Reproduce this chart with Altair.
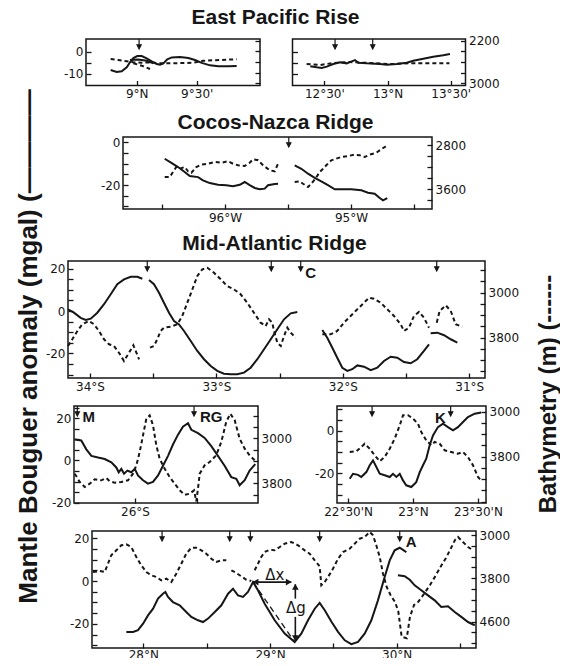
import json
import altair as alt
import pandas as pd

# ===================== DATA =====================
# ---- East Pacific Rise, 9°N (latitude °N; gravity mgal; depth m)
EPR9_GRAV_LAT = [8.783, 8.833, 8.875, 8.917, 8.944, 8.972, 9.005, 9.042, 9.083, 9.125, 9.167, 9.194,
                 9.222, 9.255, 9.292, 9.361, 9.430, 9.486, 9.542, 9.611, 9.680, 9.763, 9.833]
EPR9_GRAV = [-8.3, -9.2, -8.9, -7.1, -4.8, -2.9, -2.0, -2.0, -3.0, -4.4, -5.6, -5.9,
             -5.3, -3.5, -2.6, -2.4, -2.9, -3.8, -5.1, -6.2, -6.6, -6.6, -6.5]
EPR9_GRAV2_LAT = [8.944, 9.014, 9.083, 9.139]
EPR9_GRAV2 = [-3.8, -3.5, -4.1, -5.3]
EPR9_DEPTH_LAT = [8.783, 8.847, 8.917, 8.972, 9.042, 9.125, 9.194, 9.305, 9.472, 9.555, 9.694, 9.833]
EPR9_DEPTH = [2544, 2562, 2587, 2606, 2613, 2606, 2624, 2624, 2613, 2576, 2562, 2549]
EPR9_DEPTH2_LAT = [8.972, 9.042, 9.111]
EPR9_DEPTH2 = [2624, 2669, 2731]
EPR9_ARROWS = [9.02]

# ---- East Pacific Rise, 13°N
EPR13_GRAV_LAT = [12.389, 12.440, 12.479, 12.519, 12.571, 12.624, 12.677, 12.717, 12.743, 12.769,
                  12.835, 12.941, 12.994, 13.073, 13.152, 13.204, 13.283, 13.362, 13.441, 13.494]
EPR13_GRAV = [-6.6, -7.1, -7.4, -6.8, -5.6, -4.8, -5.3, -4.4, -3.8, -5.0,
              -5.3, -5.6, -5.9, -5.6, -5.0, -4.1, -3.2, -2.3, -1.6, -1.0]
EPR13_DEPTH_LAT = [12.36, 12.466, 12.57, 12.70, 12.86, 13.02, 13.18, 13.33, 13.49]
EPR13_DEPTH = [2638, 2656, 2619, 2600, 2619, 2638, 2624, 2624, 2624]
EPR13_ARROWS = [12.585, 12.883]

EPR_GTICKS = [-10, -5, 0]
EPR9_GLABELS = ["-10", "", "0"]
EPR13_GLABELS = ["", "", ""]
EPR_BTICKS = [2200, 2400, 2600, 2800, 3000]
EPR9_BLABELS = ["", "", "", "", ""]
EPR13_BLABELS = ["2200", "", "", "", "3000"]
EPR9_XTICKS = [9.0, 9.5]
EPR9_XLABELS = ["9°N", "9°30'"]
EPR13_XTICKS = [12.5, 13.0, 13.5]
EPR13_XLABELS = ["12°30'", "13°N", "13°30'"]

# ---- Cocos-Nazca Ridge (longitude, east positive)
COCOS_W_GRAV_LON = [-96.479, -96.426, -96.373, -96.320, -96.280, -96.214, -96.175, -96.121, -96.056, -95.990,
                    -95.937, -95.883, -95.844, -95.804, -95.764, -95.725, -95.685, -95.659, -95.606, -95.579]
COCOS_W_GRAV = [-7.7, -9.6, -11.6, -13.9, -15.8, -16.3, -17.8, -19.1, -19.9, -20.1,
                -20.6, -19.9, -18.6, -20.1, -21.4, -22.0, -21.7, -20.1, -19.5, -19.4]
COCOS_W_DEPTH_LON = [-96.479, -96.439, -96.413, -96.387, -96.360, -96.320, -96.294, -96.267, -96.228, -96.188,
                     -96.135, -96.082, -96.029, -95.976, -95.937, -95.897, -95.844, -95.804, -95.778, -95.738,
                     -95.698, -95.645, -95.606, -95.579]
COCOS_W_DEPTH = [3382, 3382, 3291, 3200, 3231, 3200, 3278, 3304, 3200, 3158,
                 3140, 3109, 3122, 3096, 3140, 3169, 3182, 3122, 3060, 3078,
                 3169, 3260, 3278, 3140]
COCOS_E_GRAV_LON = [-95.447, -95.394, -95.341, -95.288, -95.236, -95.183, -95.129, -95.077, -94.998, -94.918,
                    -94.865, -94.812, -94.772, -94.746, -94.712]
COCOS_E_GRAV = [-10.8, -12.4, -14.7, -16.7, -18.3, -20.1, -22.0, -22.0, -22.0, -22.5,
                -23.6, -24.1, -26.1, -27.2, -26.1]
COCOS_E_DEPTH_LON = [-95.447, -95.407, -95.381, -95.341, -95.315, -95.283, -95.248, -95.222, -95.196, -95.156,
                     -95.117, -95.077, -95.024, -94.971, -94.931, -94.891, -94.852, -94.799, -94.760, -94.720]
COCOS_E_DEPTH = [3473, 3460, 3504, 3564, 3504, 3413, 3291, 3231, 3169, 3078,
                 3049, 3018, 3000, 2976, 2987, 3018, 2976, 2940, 2878, 2818]
COCOS_ARROWS = [-95.494]
COCOS_GTICKS = [-30, -25, -20, -15, -10, -5, 0]
COCOS_GLABELS = ["", "", "-20", "", "", "", "0"]
COCOS_BTICKS = [2800, 3000, 3200, 3400, 3600, 3800]
COCOS_BLABELS = ["2800", "", "", "", "3600", ""]
COCOS_XTICKS = [-96.5, -96.0, -95.5, -95.0, -94.5]
COCOS_XLABELS = ["", "96°W", "", "95°W", ""]

# ---- Mid-Atlantic Ridge, 34°S-31°S (latitude, north positive)
MARC_GRAV_1_LAT = [-34.174, -34.127, -34.074, -34.034, -33.994, -33.942, -33.889, -33.836, -33.784, -33.731,
                   -33.678, -33.626, -33.586]
MARC_GRAV_1 = [0.8, -0.8, -3.2, -4.2, -3.6, -0.8, 3.2, 7.9, 12.6, 14.9, 16.1, 16.1, 15.2]
MARC_GRAV_2_LAT = [-33.533, -33.494, -33.454, -33.415, -33.375, -33.335, -33.296, -33.256, -33.203, -33.151,
                   -33.098, -33.045, -32.993, -32.940, -32.887, -32.835, -32.782, -32.729, -32.676, -32.623,
                   -32.570, -32.518, -32.465, -32.412, -32.360]
MARC_GRAV_2 = [14.6, 12.6, 8.6, 3.9, -0.8, -4.7, -6.3, -9.4, -14.1, -18.8,
               -22.7, -25.9, -28.2, -29.5, -29.8, -29.8, -29.0, -26.7, -22.7, -18.0,
               -13.3, -8.6, -3.9, -1.1, -0.5]
MARC_GRAV_3_LAT = [-32.162, -32.123, -32.083, -32.044, -32.004, -31.964, -31.925, -31.885, -31.832, -31.779,
                   -31.727, -31.674, -31.621, -31.569, -31.516, -31.463, -31.411, -31.358, -31.318]
MARC_GRAV_3 = [-8.9, -12.6, -17.3, -22.0, -26.7, -28.2, -27.4, -25.6, -26.2, -27.8,
               -26.7, -23.5, -21.5, -22.0, -24.0, -24.6, -22.7, -18.8, -15.7]
MARC_GRAV_4_LAT = [-31.305, -31.252, -31.199, -31.146, -31.094]
MARC_GRAV_4 = [-10.5, -10.2, -11.4, -13.3, -14.9]
MARC_DEPTH_1_LAT = [-34.174, -34.140, -34.100, -34.061, -34.008, -33.968, -33.929, -33.889, -33.850, -33.810,
                    -33.771, -33.731, -33.691, -33.657, -33.638, -33.612]
MARC_DEPTH_1 = [3948, 3829, 3681, 3562, 3503, 3562, 3681, 3829, 3917, 3948,
                4067, 4214, 4067, 3935, 4037, 4184]
MARC_DEPTH_2_LAT = [-33.525, -33.494, -33.468, -33.441, -33.415, -33.362, -33.309, -33.270, -33.230, -33.190,
                    -33.151, -33.111, -33.072, -33.019, -32.966, -32.914, -32.861, -32.808, -32.756, -32.703,
                    -32.650, -32.610, -32.584, -32.558, -32.544, -32.518, -32.491, -32.465, -32.439, -32.412,
                    -32.373]
MARC_DEPTH_2 = [3978, 3948, 3829, 3681, 3622, 3605, 3562, 3414, 3178, 2940,
                2703, 2584, 2556, 2644, 2762, 2881, 2940, 3028, 3178, 3356,
                3533, 3592, 3473, 3533, 3681, 3889, 3948, 3770, 3622, 3711,
                3800]
MARC_DEPTH_3_LAT = [-32.162, -32.096, -32.044, -31.991, -31.938, -31.885, -31.832, -31.793, -31.753, -31.700,
                    -31.648, -31.595, -31.542, -31.516, -31.476, -31.437, -31.397, -31.358, -31.318]
MARC_DEPTH_3 = [3740, 3740, 3681, 3533, 3414, 3295, 3178, 3089, 3107, 3178,
                3295, 3414, 3562, 3681, 3622, 3414, 3343, 3444, 3622]
MARC_DEPTH_4_LAT = [-31.257, -31.234, -31.186, -31.146, -31.107, -31.055]
MARC_DEPTH_4 = [3533, 3325, 3224, 3325, 3562, 3605]
MARC_ARROWS = [-33.547, -32.566, -32.333, -31.257]
MARC_LABELS = ["C"]
MARC_LABEL_POS = [(-32.254, 18.0)]
MARC_GTICKS = [-30, -25, -20, -15, -10, -5, 0, 5, 10, 15, 20]
MARC_GLABELS = ["", "", "-20", "", "", "", "0", "", "", "", "20"]
MARC_BTICKS = [2600, 2800, 3000, 3200, 3400, 3600, 3800, 4000, 4200, 4400]
MARC_BLABELS = ["", "", "3000", "", "", "", "3800", "", "", ""]
MARC_XTICKS = [-34.0, -33.5, -33.0, -32.5, -32.0, -31.5, -31.0]
MARC_XLABELS = ["34°S", "", "33°S", "", "32°S", "", "31°S"]

# ---- Mid-Atlantic Ridge, 26°S-25°S (M, RG)
MARM_GRAV_LAT = [-26.489, -26.436, -26.395, -26.354, -26.300, -26.246, -26.192, -26.152, -26.132, -26.111,
                 -26.089, -26.062, -26.030, -26.002, -25.976, -25.935, -25.895, -25.854, -25.813, -25.773,
                 -25.732, -25.692, -25.651, -25.611, -25.570, -25.543, -25.489, -25.435, -25.381, -25.327,
                 -25.273, -25.219, -25.178, -25.151, -25.110, -25.070, -25.024]
MARM_GRAV = [10.0, 9.5, 5.3, 2.2, 1.4, 0.7, -0.9, -3.3, -5.6, -4.0,
             -6.3, -4.8, -5.6, -4.0, -7.1, -9.4, -11.0, -10.2, -7.1, -2.5,
             2.2, 7.6, 12.3, 16.1, 17.7, 14.6, 13.0, 10.7, 6.8, 2.2,
             -2.5, -7.9, -8.7, -11.8, -9.4, -4.8, -1.7]
MARM_DEPTH_LAT = [-26.489, -26.448, -26.408, -26.367, -26.327, -26.273, -26.233, -26.205, -26.165, -26.111,
                  -26.057, -26.016, -25.989, -25.962, -25.935, -25.908, -25.881, -25.854, -25.827, -25.800,
                  -25.759, -25.719, -25.678, -25.637, -25.597, -25.556, -25.521, -25.503, -25.489, -25.475,
                  -25.435, -25.394, -25.341, -25.300, -25.260, -25.227, -25.191, -25.151, -25.110, -25.070,
                  -25.029]
MARM_DEPTH = [3629, 3777, 3866, 3807, 3729, 3747, 3706, 3765, 3789, 3777,
              3747, 3629, 3480, 3244, 2947, 2652, 2591, 2769, 3124, 3363,
              3541, 3688, 3807, 3925, 4003, 3985, 3925, 4120, 3896, 3629,
              3480, 3421, 3302, 3066, 2710, 2563, 2680, 3007, 3185, 3302,
              3391]
MARM_ARROWS = [-26.468, -25.521]
MARM_LABELS = ["M", "RG"]
MARM_LABEL_POS = [(-26.375, 20.8), (-25.381, 20.8)]
MARM_GTICKS = [-20, -15, -10, -5, 0, 5, 10, 15, 20, 25]
MARM_GLABELS = ["-20", "", "", "", "0", "", "", "", "20", ""]
MARM_BTICKS = [2600, 2800, 3000, 3200, 3400, 3600, 3800, 4000]
MARM_BLABELS = ["", "", "3000", "", "", "", "3800", ""]
MARM_XTICKS = [-26.0, -25.5, -25.0]
MARM_XLABELS = ["26°S", "", "25°S"]

# ---- Mid-Atlantic Ridge, 23°N (K)
K_GRAV_LAT = [22.513, 22.538, 22.577, 22.602, 22.641, 22.667, 22.692, 22.718, 22.744, 22.782,
              22.821, 22.846, 22.872, 22.898, 22.923, 22.948, 22.987, 23.025, 23.052, 23.077,
              23.102, 23.128, 23.154, 23.192, 23.231, 23.269, 23.308, 23.346, 23.385, 23.423,
              23.475, 23.525]
K_GRAV = [-22.5, -20.2, -20.7, -21.7, -19.4, -16.2, -13.9, -17.0, -20.2, -20.9,
          -21.7, -20.2, -21.7, -20.2, -23.3, -25.6, -26.4, -24.1, -19.4, -16.2,
          -13.1, -6.9, -2.2, 1.7, 3.3, 1.7, 0.2, 1.7, 4.1, 6.4,
          8.0, 8.5]
K_DEPTH_LAT = [22.513, 22.564, 22.602, 22.628, 22.667, 22.705, 22.744, 22.782, 22.821, 22.859,
               22.898, 22.923, 22.962, 23.000, 23.038, 23.064, 23.102, 23.141, 23.167, 23.205,
               23.244, 23.295, 23.346, 23.385, 23.423, 23.462, 23.500, 23.525]
K_DEPTH = [3717, 3704, 3628, 3569, 3658, 3775, 3882, 3805, 3658, 3480,
           3242, 3064, 3064, 3124, 3213, 3361, 3509, 3597, 3539, 3569,
           3686, 3717, 3747, 3717, 3805, 3953, 4161, 4220]
K_ARROWS = [22.685, 23.29]
K_LABELS = ["K"]
K_LABEL_POS = [(23.212, 6.0)]
K_GTICKS = [-30, -25, -20, -15, -10, -5, 0, 5, 10]
K_GLABELS = ["", "", "-20", "", "", "", "0", "", ""]
K_BTICKS = [3000, 3200, 3400, 3600, 3800, 4000, 4200, 4400, 4600]
K_BLABELS = ["3000", "", "", "", "3800", "", "", "", ""]
K_XTICKS = [22.5, 23.0, 23.5]
K_XLABELS = ["22°30'N", "23°N", "23°30'N"]

# ---- Mid-Atlantic Ridge, 28°N-30°N (A)
A_GRAV_1_LAT = [27.866, 27.919, 27.958, 27.998, 28.037, 28.077, 28.116, 28.155, 28.174, 28.195,
                28.234, 28.287, 28.339, 28.379, 28.432, 28.471, 28.511, 28.564, 28.616, 28.669,
                28.708, 28.747, 28.787, 28.826, 28.866, 28.905, 28.958, 29.037, 29.116, 29.195,
                29.247, 29.300, 29.353, 29.392, 29.432, 29.484, 29.537, 29.590, 29.642, 29.695,
                29.747, 29.800, 29.852, 29.905, 29.945, 29.984, 30.024, 30.076]
A_GRAV_1 = [-23.7, -23.7, -22.9, -19.9, -16.0, -12.9, -8.2, -5.9, -5.1, -7.4,
            -9.8, -11.3, -14.4, -16.7, -18.3, -19.1, -17.5, -14.4, -11.3, -5.9,
            -3.6, -6.7, -7.4, -5.1, -0.5, -4.3, -10.6, -18.3, -24.5, -28.4,
            -24.5, -18.3, -12.9, -10.2, -13.6, -18.9, -23.7, -27.6, -29.4, -28.4,
            -24.5, -18.3, -9.0, 1.9, 9.6, 14.3, 15.5, 13.5]
A_GRAV_2_LAT = [30.010, 30.063, 30.103, 30.142, 30.194, 30.247, 30.300, 30.352, 30.405, 30.458,
                30.510, 30.563, 30.616]
A_GRAV_2 = [2.7, 2.2, 0.6, -2.0, -4.3, -6.7, -9.0, -12.1, -11.8, -14.4, -16.7, -19.1, -20.6]
A_DEPTH_1_LAT = [27.603, 27.656, 27.695, 27.721, 27.747, 27.787, 27.826, 27.866, 27.905, 27.945,
                 27.984, 28.024, 28.063, 28.103, 28.142, 28.182, 28.221, 28.260, 28.300, 28.339,
                 28.379, 28.418, 28.458, 28.497, 28.537, 28.576, 28.616, 28.655]
A_DEPTH_1 = [3684, 3665, 3684, 3530, 3375, 3283, 3190, 3172, 3222, 3406,
             3560, 3684, 3745, 3776, 3837, 3807, 3868, 3715, 3530, 3345,
             3235, 3235, 3283, 3345, 3438, 3499, 3467, 3467]
A_DEPTH_2_LAT = [28.695, 28.734, 28.773, 28.813, 28.852]
A_DEPTH_2 = [3652, 3702, 3763, 3826, 3850]
A_DEPTH_3_LAT = [28.879, 28.905, 28.931, 28.958, 28.998, 29.037, 29.077, 29.116, 29.168, 29.221,
                 29.274, 29.313, 29.353, 29.392, 29.405, 29.432, 29.458, 29.497, 29.537, 29.576,
                 29.629, 29.668, 29.708, 29.747, 29.787, 29.813, 29.839, 29.866, 29.892, 29.921,
                 29.955, 29.987, 30.013, 30.039, 30.079, 30.105, 30.137, 30.171, 30.215, 30.263,
                 30.310, 30.350, 30.389, 30.429, 30.460, 30.484, 30.523, 30.563, 30.602]
A_DEPTH_3 = [3652, 3530, 3406, 3314, 3271, 3283, 3222, 3161, 3129, 3190,
             3283, 3345, 3467, 3578, 3929, 3868, 3776, 3623, 3438, 3314,
             3253, 3161, 3068, 3037, 2944, 3005, 3190, 3406, 3715, 3961,
             4127, 4238, 4417, 4879, 4909, 4510, 4293, 4232, 4090, 3924,
             3739, 3573, 3425, 3240, 3092, 3037, 3129, 3222, 3283]
A_ARROWS = [28.148, 28.682, 28.845, 29.392, 30.024]
A_LABELS = ["A"]
A_LABEL_POS = [(30.115, 18.1)]
A_GTICKS = [-30, -25, -20, -15, -10, -5, 0, 5, 10, 15, 20]
A_GLABELS = ["", "", "-20", "", "", "", "0", "", "", "", "20"]
A_BTICKS = [3000, 3200, 3400, 3600, 3800, 4000, 4200, 4400, 4600, 4800, 5000]
A_BLABELS = ["3000", "", "", "", "3800", "", "", "", "4600", "", ""]
A_XTICKS = [28.0, 28.5, 29.0, 29.5, 30.0, 30.5]
A_XLABELS = ["28°N", "", "29°N", "", "30°N", ""]
# Δx / Δg construction (latitude, mgal)
DX_LAT = [28.866, 29.168]
DX_G = [-0.5, -0.5]
DG_TOP_G = [-1.5, -8.2]
DG_BOT_G = [-16.7, -27.6]
DG_LAT = 29.2
DIAG_LAT = [28.866, 29.195]
DIAG_G = [-0.5, -28.4]

# ===================== LAYOUT / STYLE =====================
W, H = 552, 650
TS = 5
INK = "#161616"
LBL_FONT = "DejaVu Sans"
TTL_FONT = "Liberation Sans"
ARROW_PATH = "M0,-1L0,0.3M-0.42,0.15L0,1L0.42,0.15Z"
LEFT_TITLE = "Mantle Bouguer anomaly (mgal) (————"
RIGHT_TITLE = "Bathymetry (m) (------"


def lab_expr(values, labels):
    e = "''"
    for v, l in reversed(list(zip(values, labels))):
        e = f"(abs(datum.value - ({v})) < 1e-6) ? {json.dumps(l, ensure_ascii=False)} : ({e})"
    return e


def mk_axis(**kw):
    d = dict(grid=False, domain=False, tickSize=TS, tickWidth=1.3, tickColor=INK,
             labelFont=LBL_FONT, labelFontSize=12, labelColor=INK, labelFlush=False,
             labelOverlap=False, title=None)
    d.update(kw)
    return alt.Axis(**d)


def title_kw(text, tx, ty, angle=0, size=21, align="center", baseline="alphabetic"):
    return dict(title=text, titleX=tx, titleY=ty, titleAngle=angle, titleAlign=align,
                titleBaseline=baseline, titleFont=TTL_FONT, titleFontSize=size,
                titleFontWeight="bold", titleColor=INK)


def seg_df(segments):
    rows = []
    for s, (xs, ys) in enumerate(segments):
        for i, (x, y) in enumerate(zip(xs, ys)):
            rows.append({"x": x, "y": y, "seg": s, "i": i})
    return pd.DataFrame(rows)


PANELS = [
    dict(frame=(78, 252, 31, 77.5), xdom=[8.5775, 10.0275], gdom=[-15.36, 5.77], bdom=[2168, 3041],
         xt=EPR9_XTICKS, xl=EPR9_XLABELS, gt=EPR_GTICKS, gl=EPR9_GLABELS, bt=EPR_BTICKS, bl=EPR9_BLABELS,
         grav=[(EPR9_GRAV_LAT, EPR9_GRAV), (EPR9_GRAV2_LAT, EPR9_GRAV2)],
         depth=[(EPR9_DEPTH_LAT, EPR9_DEPTH), (EPR9_DEPTH2_LAT, EPR9_DEPTH2)],
         arrows=EPR9_ARROWS, labels=[], lpos=[],
         xtitle=("East Pacific Rise", 267, 15.5)),
    dict(frame=(284.5, 457.5, 31, 77.5), xdom=[12.2484, 13.617], gdom=[-15.36, 5.77], bdom=[2168, 3041],
         xt=EPR13_XTICKS, xl=EPR13_XLABELS, gt=EPR_GTICKS, gl=EPR13_GLABELS, bt=EPR_BTICKS, bl=EPR13_BLABELS,
         grav=[(EPR13_GRAV_LAT, EPR13_GRAV)], depth=[(EPR13_DEPTH_LAT, EPR13_DEPTH)],
         arrows=EPR13_ARROWS, labels=[], lpos=[]),
    dict(frame=(115, 424, 129, 201), xdom=[-96.81, -94.357], gdom=[-31.24, 2.48], bdom=[2654.5, 3963.6],
         xt=COCOS_XTICKS, xl=COCOS_XLABELS, gt=COCOS_GTICKS, gl=COCOS_GLABELS, bt=COCOS_BTICKS, bl=COCOS_BLABELS,
         grav=[(COCOS_W_GRAV_LON, COCOS_W_GRAV), (COCOS_E_GRAV_LON, COCOS_E_GRAV)],
         depth=[(COCOS_W_DEPTH_LON, COCOS_W_DEPTH), (COCOS_E_DEPTH_LON, COCOS_E_DEPTH)],
         arrows=COCOS_ARROWS, labels=[], lpos=[],
         xtitle=("Cocos-Nazca Ridge", 267, 120.5)),
    dict(frame=(60, 477, 253, 370), xdom=[-34.174, -30.875], gdom=[-31.53, 23.53], bdom=[2436, 4517],
         xt=MARC_XTICKS, xl=MARC_XLABELS, gt=MARC_GTICKS, gl=MARC_GLABELS, bt=MARC_BTICKS, bl=MARC_BLABELS,
         grav=[(MARC_GRAV_1_LAT, MARC_GRAV_1), (MARC_GRAV_2_LAT, MARC_GRAV_2),
               (MARC_GRAV_3_LAT, MARC_GRAV_3), (MARC_GRAV_4_LAT, MARC_GRAV_4)],
         depth=[(MARC_DEPTH_1_LAT, MARC_DEPTH_1), (MARC_DEPTH_2_LAT, MARC_DEPTH_2),
                (MARC_DEPTH_3_LAT, MARC_DEPTH_3), (MARC_DEPTH_4_LAT, MARC_DEPTH_4)],
         arrows=MARC_ARROWS, labels=MARC_LABELS, lpos=MARC_LABEL_POS,
         xtitle=("Mid-Atlantic Ridge", 266, 241),
         ytitle=(LEFT_TITLE, 20.3, 338),
         btitle=(RIGHT_TITLE, 540, 385.5)),
    dict(frame=(66, 250, 398, 495), xdom=[-26.495, -25.002], gdom=[-20.2, 25.9], bdom=[2426, 4150],
         xt=MARM_XTICKS, xl=MARM_XLABELS, gt=MARM_GTICKS, gl=MARM_GLABELS, bt=MARM_BTICKS, bl=MARM_BLABELS,
         grav=[(MARM_GRAV_LAT, MARM_GRAV)], depth=[(MARM_DEPTH_LAT, MARM_DEPTH)],
         arrows=MARM_ARROWS, labels=MARM_LABELS, lpos=MARM_LABEL_POS),
    dict(frame=(329, 478, 398, 495), xdom=[22.415, 23.562], gdom=[-33.9, 11.6], bdom=[2899, 4623],
         xt=K_XTICKS, xl=K_XLABELS, gt=K_GTICKS, gl=K_GLABELS, bt=K_BTICKS, bl=K_BLABELS,
         grav=[(K_GRAV_LAT, K_GRAV)], depth=[(K_DEPTH_LAT, K_DEPTH)],
         arrows=K_ARROWS, labels=K_LABELS, lpos=K_LABEL_POS),
    dict(frame=(84, 468, 523, 640), xdom=[27.595, 30.626], gdom=[-31.2, 23.3], bdom=[2926, 5088],
         xt=A_XTICKS, xl=A_XLABELS, gt=A_GTICKS, gl=A_GLABELS, bt=A_BTICKS, bl=A_BLABELS,
         grav=[(A_GRAV_1_LAT, A_GRAV_1), (A_GRAV_2_LAT, A_GRAV_2)],
         depth=[(A_DEPTH_1_LAT, A_DEPTH_1), (A_DEPTH_2_LAT, A_DEPTH_2), (A_DEPTH_3_LAT, A_DEPTH_3)],
         arrows=A_ARROWS, labels=A_LABELS, lpos=A_LABEL_POS, construction=True, xpad=1),
]

layers = []
for p in PANELS:
    L, R, T, B = p["frame"]
    xs = alt.Scale(domain=p["xdom"], range=[L, R], nice=False, zero=False)
    gs = alt.Scale(domain=p["gdom"], range=[B, T], nice=False, zero=False)
    bs = alt.Scale(domain=p["bdom"], range=[T, B], nice=False, zero=False)

    # frame
    fdf = pd.DataFrame([{"x": p["xdom"][0], "x2": p["xdom"][1], "y": p["gdom"][0], "y2": p["gdom"][1]}])
    layers.append(alt.Chart(fdf).mark_rect(fill="transparent", stroke=INK, strokeWidth=1.5).encode(
        x=alt.X("x:Q", scale=xs, axis=None), x2="x2:Q",
        y=alt.Y("y:Q", scale=gs, axis=None), y2="y2:Q"))

    # axes
    bkw = dict(orient="bottom", offset=(B - TS) - H, values=p["xt"], labelExpr=lab_expr(p["xt"], p["xl"]),
               labelPadding=p.get("xpad", 3))
    if "xtitle" in p:
        t, tx, ty = p["xtitle"]
        bkw.update(title_kw(t, tx, ty - (B - TS)))
    lkw = dict(orient="left", offset=-(L + TS), values=p["gt"], labelExpr=lab_expr(p["gt"], p["gl"]),
               labelPadding=3)
    if "ytitle" in p:
        t, tx, ty = p["ytitle"]
        lkw.update(title_kw(t, tx - (L + TS), ty, angle=270, size=26, baseline="middle"))
    rkw = dict(orient="right", offset=(R - TS) - W, values=p["bt"], labelExpr=lab_expr(p["bt"], p["bl"]),
               labelPadding=3)
    if "btitle" in p:
        t, tx, ty = p["btitle"]
        rkw.update(title_kw(t, tx - (R - TS), ty, angle=270, size=24, baseline="middle"))

    # gravity (solid)
    layers.append(alt.Chart(seg_df(p["grav"])).mark_line(color=INK, strokeWidth=2).encode(
        x=alt.X("x:Q", scale=xs, axis=mk_axis(**bkw)),
        y=alt.Y("y:Q", scale=gs, axis=mk_axis(**lkw)),
        detail="seg:N", order="i:Q"))
    # bathymetry (dashed)
    layers.append(alt.Chart(seg_df(p["depth"])).mark_line(color=INK, strokeWidth=2, strokeDash=[4, 3]).encode(
        x=alt.X("x:Q", scale=xs, axis=None),
        y=alt.Y("y:Q", scale=bs, axis=mk_axis(**rkw)),
        detail="seg:N", order="i:Q"))
    # transform arrows
    adf = pd.DataFrame({"x": p["arrows"], "y": [p["gdom"][1]] * len(p["arrows"])})
    layers.append(alt.Chart(adf).mark_point(shape=ARROW_PATH, size=100, fill=INK, stroke=INK,
                                            strokeWidth=1.2, opacity=1, fillOpacity=1, yOffset=5).encode(
        x=alt.X("x:Q", scale=xs, axis=None), y=alt.Y("y:Q", scale=gs, axis=None)))
    # letters
    if p["labels"]:
        ldf = pd.DataFrame({"x": [q[0] for q in p["lpos"]], "y": [q[1] for q in p["lpos"]], "t": p["labels"]})
        layers.append(alt.Chart(ldf).mark_text(font=TTL_FONT, fontSize=15, fontWeight="bold", color=INK,
                                               baseline="middle").encode(
            x=alt.X("x:Q", scale=xs, axis=None), y=alt.Y("y:Q", scale=gs, axis=None), text="t:N"))
    # Δx / Δg construction
    if p.get("construction"):
        cdf = seg_df([(DX_LAT, DX_G), ([DG_LAT, DG_LAT], DG_TOP_G), ([DG_LAT, DG_LAT], DG_BOT_G)])
        layers.append(alt.Chart(cdf).mark_line(color=INK, strokeWidth=1.6).encode(
            x=alt.X("x:Q", scale=xs, axis=None), y=alt.Y("y:Q", scale=gs, axis=None),
            detail="seg:N", order="i:Q"))
        ddf = seg_df([(DIAG_LAT, DIAG_G)])
        layers.append(alt.Chart(ddf).mark_line(color=INK, strokeWidth=1.3, strokeDash=[6, 4]).encode(
            x=alt.X("x:Q", scale=xs, axis=None), y=alt.Y("y:Q", scale=gs, axis=None),
            detail="seg:N", order="i:Q"))
        hdf = pd.DataFrame({
            "x": [DX_LAT[0] + 0.02, DX_LAT[1] - 0.02, DG_LAT, DG_LAT],
            "y": [DX_G[0], DX_G[1], DG_TOP_G[0] - 1.2, DG_BOT_G[1] + 1.0],
            "s": ["triangle-left", "triangle-right", "triangle-up", "triangle-down"]})
        layers.append(alt.Chart(hdf).mark_point(filled=True, size=45, color=INK, opacity=1).encode(
            x=alt.X("x:Q", scale=xs, axis=None), y=alt.Y("y:Q", scale=gs, axis=None),
            shape=alt.Shape("s:N", scale=None)))
        tdf = pd.DataFrame({"x": [29.037, 29.205], "y": [3.0, -12.4], "t": ["Δx", "Δg"]})
        layers.append(alt.Chart(tdf).mark_text(font=LBL_FONT, fontSize=15, color=INK, baseline="middle").encode(
            x=alt.X("x:Q", scale=xs, axis=None), y=alt.Y("y:Q", scale=gs, axis=None), text="t:N"))

chart = (alt.layer(*layers)
         .resolve_scale(x="independent", y="independent")
         .resolve_axis(x="independent", y="independent")
         .properties(width=W, height=H, padding=0, background="white",
                     autosize=alt.AutoSizeParams(type="none"))
         .configure_view(stroke="transparent"))

chart.save("out.html", embed_options={"renderer": "svg", "actions": False})
